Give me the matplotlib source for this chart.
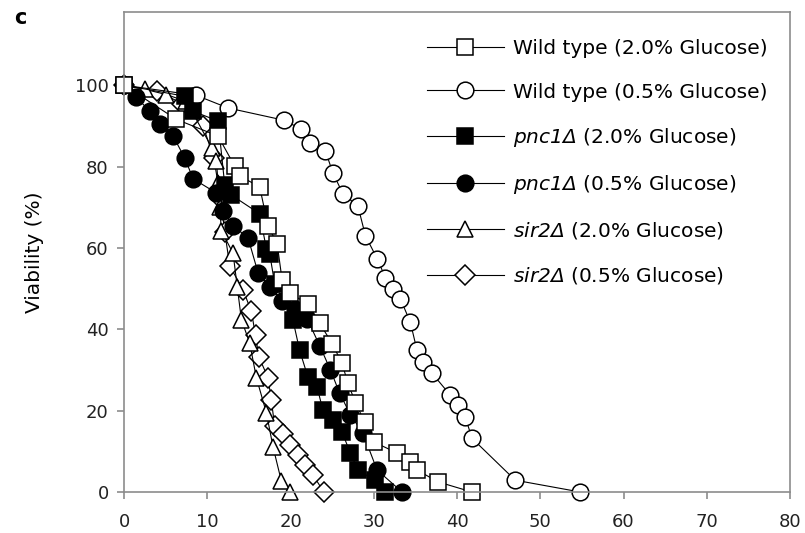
import matplotlib
matplotlib.use('Agg')
import matplotlib.pyplot as plt

plt.rcParams['font.family'] = ['DejaVu Sans']
# italic gene names inside $...$, rest of label stays upright
plt.rcParams['mathtext.fontset'] = 'custom'
plt.rcParams['mathtext.rm'] = 'DejaVu Sans:italic'
plt.rcParams['mathtext.it'] = 'DejaVu Sans:italic'

# survival curves (days vs viability %)
wt20_x = [0, 6.3, 11.3, 13.3, 13.9, 16.3, 17.3, 18.4, 19.0, 19.9, 22.1, 23.5, 25.0, 26.2, 26.9, 27.8, 28.9, 30.0, 32.8, 34.4, 35.2, 37.7, 41.8]
wt20_y = [100, 91.6, 87.5, 80.1, 77.7, 75.0, 65.4, 61.0, 52.0, 48.8, 46.3, 41.5, 36.5, 31.6, 26.7, 22.0, 17.2, 12.3, 9.6, 7.4, 5.4, 2.5, 0]

wt05_x = [0, 8.7, 12.5, 19.2, 21.3, 22.3, 24.2, 25.1, 26.3, 28.1, 29.0, 30.4, 31.4, 32.3, 33.2, 34.4, 35.2, 35.9, 37.0, 39.2, 40.1, 41.0, 41.8, 47.0, 54.8]
wt05_y = [100, 97.5, 94.4, 91.4, 89.2, 85.8, 83.8, 78.4, 73.3, 70.3, 63.0, 57.4, 52.7, 50.0, 47.5, 41.7, 34.8, 31.9, 29.2, 23.8, 21.3, 18.4, 13.2, 2.9, 0]

pnc20_x = [0, 7.3, 8.3, 11.3, 12.1, 12.9, 16.3, 17.1, 17.5, 18.1, 20.3, 21.1, 22.1, 23.2, 23.9, 25.1, 26.2, 27.2, 28.1, 30.1, 31.3]
pnc20_y = [100, 97.3, 93.6, 91.2, 75.5, 73.0, 68.4, 59.8, 58.6, 51.2, 42.2, 34.8, 28.2, 25.7, 20.1, 17.6, 14.7, 9.5, 5.4, 2.9, 0]

pnc05_x = [0, 1.5, 3.1, 4.3, 5.9, 7.3, 8.3, 11.1, 11.9, 13.1, 14.9, 16.1, 17.5, 19.0, 20.5, 22.0, 23.5, 24.8, 25.9, 27.2, 28.7, 30.4, 33.4]
pnc05_y = [100, 97, 93.6, 90.4, 87.5, 82.1, 77.0, 73.5, 69.1, 65.4, 62.5, 53.9, 50.5, 47.0, 45.0, 42.6, 36.0, 30.0, 24.3, 19.0, 14.5, 5.4, 0]

sir20_x = [0, 2.5, 5.1, 7.5, 10.6, 11.1, 11.3, 11.5, 11.7, 13.1, 13.6, 14.1, 15.1, 15.9, 17.1, 17.9, 18.9, 19.9]
sir20_y = [100, 99, 97.7, 96, 84.5, 81.4, 76, 70, 64.2, 58.7, 50.5, 42.4, 36.6, 28.1, 19.5, 11.1, 2.7, 0]

sir05_x = [0, 4, 7, 9.5, 10.8, 11.6, 12.1, 12.7, 14.3, 15.3, 15.8, 16.2, 17.3, 17.7, 18.1, 19.1, 19.9, 20.9, 21.7, 22.7, 24.0]
sir05_y = [100, 98.5, 95.5, 90, 82, 72, 64, 55.6, 49.7, 44.4, 38.5, 33.2, 28.1, 22.5, 16.2, 14.2, 11.5, 9.1, 6.6, 4.2, 0]

labels = ['Wild type (2.0% Glucose)', 'Wild type (0.5% Glucose)',
          r'$pnc1Δ$ (2.0% Glucose)', r'$pnc1Δ$ (0.5% Glucose)',
          r'$sir2Δ$ (2.0% Glucose)', r'$sir2Δ$ (0.5% Glucose)']

fig = plt.figure(figsize=(8.05, 5.33), dpi=100)
ax = fig.add_axes([124/805, 1 - 492/533, 666/805, 480/533])

ms = 12
common = dict(color='black', lw=0.8, mec='black', mew=1.1, clip_on=False)
ax.plot(sir05_x, sir05_y, marker='D', ms=ms*0.82, mfc='white', label=labels[5], **common)
ax.plot(sir20_x, sir20_y, marker='^', ms=ms, mfc='white', label=labels[4], **common)
ax.plot(wt05_x, wt05_y, marker='o', ms=ms, mfc='white', label=labels[1], **common)
ax.plot(pnc05_x, pnc05_y, marker='o', ms=ms, mfc='black', label=labels[3], **common)
ax.plot(pnc20_x, pnc20_y, marker='s', ms=ms, mfc='black', label=labels[2], **common)
ax.plot(wt20_x, wt20_y, marker='s', ms=ms, mfc='white', label=labels[0], **common)

ax.set_xlim(0, 80)
ax.set_ylim(0, 118)
ax.set_xticks(range(0, 81, 10))
ax.set_yticks(range(0, 101, 20))
ax.set_ylabel('Viability (%)', fontsize=14.5, labelpad=22)

for s in ax.spines.values():
    s.set_color('#8c8c8c')
    s.set_linewidth(1.2)
ax.tick_params(colors='#8c8c8c', labelcolor='#222222', labelsize=13, length=5, width=1.2)
ax.tick_params(axis='x', pad=10)
ax.tick_params(axis='y', pad=6)

handles, labs = ax.get_legend_handles_labels()
order = [5, 2, 4, 3, 1, 0]
ax.legend([handles[i] for i in order], [labs[i] for i in order],
          loc='upper left', bbox_to_anchor=(0.455, 0.943), frameon=False,
          fontsize=14.5, handlelength=3.8, handletextpad=0.45, labelspacing=1.2,
          borderpad=0, borderaxespad=0)

fig.text(0.018, 0.985, 'c', fontsize=15, fontweight='bold', va='top', ha='left')

fig.savefig('out.png', dpi=100)
